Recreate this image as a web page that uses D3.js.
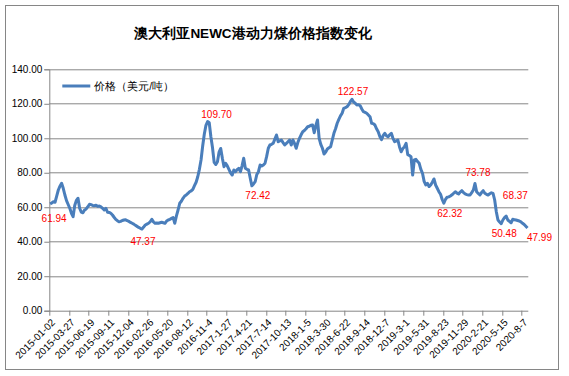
<!DOCTYPE html>
<html>
<head>
<meta charset="utf-8">
<script src="https://cdn.jsdelivr.net/npm/d3@7"></script>
<style>
    body { margin: 0; background: #fff; }
    text { font-family: "Liberation Sans", Arial, sans-serif; }
</style>
</head>
<body>
<div id="chart-area"></div>
<script>
// Weekly price, USD/t (one value per week)
var prices = [
    61.94, 62.5, 63.2, 62.9, 66.5, 70.0, 72.2, 73.9, 71.0, 67.1, 63.8, 61.6,
    59.4, 56.5, 54.5, 61.0, 64.0, 65.2, 59.4, 57.2, 56.8, 58.4, 59.0, 60.3,
    61.7, 61.5, 61.0, 60.9, 61.2, 60.5, 60.7, 60.2, 59.4, 58.4, 59.4, 57.1,
    57.0, 56.5, 55.5, 54.2, 53.0, 52.2, 51.6, 51.8, 52.3, 52.6, 52.8, 52.2,
    51.8, 51.2, 50.7, 50.2, 49.5, 48.9, 48.3, 47.8, 47.37, 48.5, 49.7, 50.2,
    50.7, 51.6, 53.0, 51.5, 50.7, 50.9, 50.7, 51.0, 51.3, 51.0, 50.7, 52.0,
    52.6, 53.0, 53.5, 54.0, 50.7, 55.0, 58.4, 62.3, 63.5, 65.2, 66.5, 67.1,
    68.0, 69.0, 69.5, 70.4, 72.5, 74.5, 77.7, 82.0, 87.4, 95.5, 102.5, 107.5,
    109.70, 109.0, 100.9, 94.5, 86.0, 84.8, 86.4, 92.0, 94.1, 88.4, 83.5, 85.5,
    84.0, 82.0, 80.0, 78.7, 81.6, 80.6, 81.8, 82.6, 80.6, 84.0, 88.4, 82.6,
    82.0, 81.6, 76.8, 72.42, 73.5, 74.8, 79.0, 80.6, 84.5, 83.9, 84.5, 85.5,
    89.5, 94.2, 96.1, 96.5, 97.1, 99.5, 101.9, 98.0, 98.5, 99.0, 97.5, 96.1,
    97.0, 98.0, 99.0, 96.1, 99.0, 97.0, 94.2, 97.5, 100.0, 102.0, 103.8, 104.5,
    105.5, 106.7, 107.0, 107.5, 107.7, 103.2, 107.5, 110.6, 100.0, 96.5, 94.2, 90.9,
    92.0, 93.8, 94.5, 95.1, 99.0, 102.9, 105.5, 108.7, 111.0, 113.0, 114.5, 117.4,
    117.8, 118.3, 119.5, 121.2, 122.57, 121.0, 120.3, 119.3, 119.5, 118.9, 117.0, 115.4,
    115.0, 114.5, 113.5, 112.5, 108.7, 108.5, 107.7, 105.5, 103.8, 101.0, 99.2, 101.5,
    102.9, 101.5, 100.9, 102.0, 102.9, 100.0, 98.0, 98.5, 99.0, 95.0, 92.2, 94.0,
    95.1, 97.1, 90.5, 90.0, 89.3, 78.7, 87.4, 87.8, 86.5, 85.5, 82.0, 79.7,
    75.0, 72.9, 73.9, 72.0, 72.9, 74.5, 76.4, 72.9, 71.0, 69.0, 67.5, 64.5,
    62.32, 64.5, 65.8, 66.0, 66.5, 67.2, 68.1, 69.0, 68.2, 67.7, 68.8, 69.6,
    68.5, 67.7, 67.3, 67.1, 67.1, 68.5, 70.0, 73.78, 69.0, 68.0, 67.1, 68.5,
    69.6, 68.1, 67.5, 67.1, 67.8, 68.37, 68.0, 64.2, 57.4, 52.6, 51.5, 50.48,
    52.6, 54.0, 54.9, 52.6, 51.8, 51.0, 53.0, 52.8, 52.6, 52.3, 52.0, 51.5,
    50.7, 50.0, 49.0, 47.99
];

// Axis labels, one every 12 weeks
var tickLabels = [
    "2015-01-02", "2015-03-27", "2015-06-19", "2015-09-11", "2015-12-04",
    "2016-02-26", "2016-05-20", "2016-08-12", "2016-11-4", "2017-1-27",
    "2017-4-21", "2017-7-14", "2017-10-13", "2018-1-5", "2018-3-30",
    "2018-6-22", "2018-9-14", "2018-12-7", "2019-3-1", "2019-5-31",
    "2019-8-23", "2019-11-29", "2020-2-21", "2020-5-15", "2020-8-7"
];

var yTicks = [0, 20, 40, 60, 80, 100, 120, 140];

// Labelled points: week index
var markedWeeks = [0, 56, 96, 123, 184, 240, 259, 269, 275, 291];

var title = "澳大利亚NEWC港动力煤价格指数变化";
var seriesName = "价格（美元/吨）";

var W = 569, H = 376;
var margin = { left: 49.3, right: 40.7, top: 69.3, bottom: 65.3 };
var width = W - margin.left - margin.right,
    height = H - margin.top - margin.bottom;

var svg = d3.select("#chart-area")
    .append("svg")
        .attr("width", W)
        .attr("height", H);

// Chart border
svg.append("rect")
    .attr("x", 5.5).attr("y", 5.5)
    .attr("width", 553).attr("height", 364)
    .attr("fill", "#fff")
    .attr("stroke", "#868686");

svg.append("text")
    .attr("x", 253)
    .attr("y", 38)
    .attr("text-anchor", "middle")
    .attr("font-family", "'Noto Sans CJK SC'")
    .attr("font-weight", "bold")
    .attr("font-size", "13.5px")
    .text(title);

var g = svg.append("g")
    .attr("transform", "translate(" + margin.left + "," + margin.top + ")");

// Scales
var x = d3.scaleBand()
    .domain(d3.range(prices.length))
    .range([0, width])
    .paddingInner(0).paddingOuter(0);

var y = d3.scaleLinear()
    .domain([0, 140])
    .range([height, 0]);

// Grid
g.selectAll("line.grid")
    .data(yTicks.slice(1))
    .enter().append("line")
        .attr("class", "grid")
        .attr("x1", 0).attr("x2", width)
        .attr("y1", function(d){ return Math.round(y(d)) + 0.5; })
        .attr("y2", function(d){ return Math.round(y(d)) + 0.5; })
        .attr("stroke", "#868686");

// Y Axis
var yAxisCall = d3.axisLeft(y)
    .tickValues(yTicks)
    .tickSize(5)
    .tickPadding(2)
    .tickFormat(d3.format(".2f"));
var yAxisGroup = g.append("g").call(yAxisCall);
yAxisGroup.select(".domain").attr("stroke", "#868686");
yAxisGroup.selectAll(".tick line").attr("stroke", "#868686");
yAxisGroup.selectAll("text")
    .attr("font-family", "'Liberation Sans'")
    .attr("font-size", "10px")
    .attr("fill", "#000");

// X Axis: ticks on week boundaries every 12 weeks
var tickWeeks = tickLabels.map(function(d, i){ return i * 12; });
var xAxisGroup = g.append("g")
    .attr("transform", "translate(0," + height + ")");
xAxisGroup.append("line")
    .attr("x1", 0).attr("x2", width)
    .attr("y1", 0.5).attr("y2", 0.5)
    .attr("stroke", "#868686");
xAxisGroup.selectAll("line.tick")
    .data(tickWeeks)
    .enter().append("line")
        .attr("class", "tick")
        .attr("x1", function(d){ return Math.round(x(d)) + 0.5; })
        .attr("x2", function(d){ return Math.round(x(d)) + 0.5; })
        .attr("y1", 0).attr("y2", 5)
        .attr("stroke", "#868686");
xAxisGroup.selectAll("text")
    .data(tickLabels)
    .enter().append("text")
        .attr("transform", function(d, i){
            return "translate(" + (x(tickWeeks[i]) + 4) + ",10) rotate(-45)";
        })
        .attr("text-anchor", "end")
        .attr("dy", "0.35em")
        .attr("font-family", "'Liberation Serif'")
        .attr("font-size", "10px")
        .attr("fill", "#000")
        .text(function(d){ return d; });

// Price line
var line = d3.line()
    .x(function(d, i){ return x(i) + x.bandwidth() / 2; })
    .y(function(d){ return y(d); });

g.append("path")
    .datum(prices)
    .attr("fill", "none")
    .attr("stroke", "#4a7ebb")
    .attr("stroke-width", 3)
    .attr("stroke-linejoin", "round")
    .attr("d", line);

// Data labels (offsets from the point)
var labelOffsets = [
    [4, 15], [1, 12], [9, -7], [6, 10], [1, -8],
    [6, 10], [3, -11], [24, 3], [3, 10], [12, 10]
];
g.selectAll("text.mark")
    .data(markedWeeks)
    .enter().append("text")
        .attr("class", "mark")
        .attr("x", function(d, i){ return x(d) + x.bandwidth() / 2 + labelOffsets[i][0]; })
        .attr("y", function(d, i){ return y(prices[d]) + labelOffsets[i][1]; })
        .attr("text-anchor", "middle")
        .attr("dy", "0.35em")
        .attr("font-family", "'Liberation Sans'")
        .attr("font-size", "10px")
        .attr("fill", "#ff0000")
        .text(function(d){ return d3.format(".2f")(prices[d]); });

// Legend
var legend = g.append("g")
    .attr("transform", "translate(13," + (86 - margin.top) + ")");
legend.append("line")
    .attr("x1", 0).attr("x2", 28)
    .attr("stroke", "#4a7ebb")
    .attr("stroke-width", 3);
legend.append("text")
    .attr("x", 32)
    .attr("dy", "0.35em")
    .attr("font-family", "'Noto Sans CJK SC'")
    .attr("font-size", "10.5px")
    .attr("fill", "#000")
    .text(seriesName);
</script>
</body>
</html>
